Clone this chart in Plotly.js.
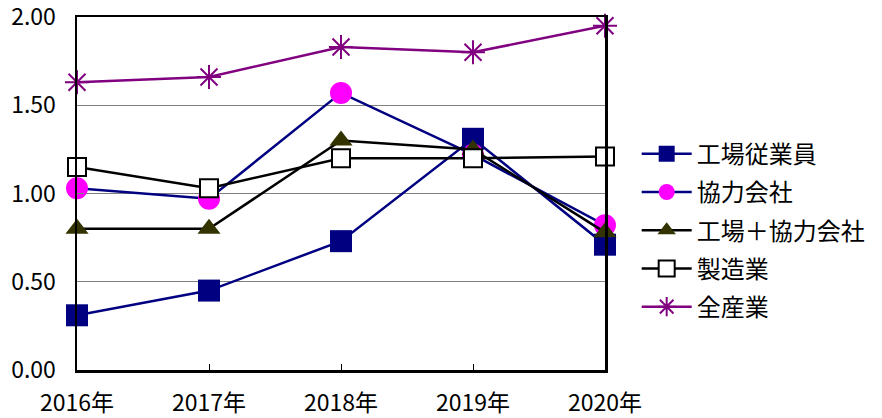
<!DOCTYPE html>
<html><head><meta charset="utf-8">
<script src="https://cdn.plot.ly/plotly-3.0.1.min.js"></script>
<style>html,body{margin:0;padding:0;background:#fff;}#chart{width:882px;height:418px;}</style>
</head><body><div id="chart"></div>
<script>
const years = ["2016年","2017年","2018年","2019年","2020年"];
const factoryEmployees = [0.31, 0.45, 0.73, 1.31, 0.71];
const partnerCompanies = [1.03, 0.97, 1.57, 1.22, 0.82];
const factoryPlusPartner = [0.80, 0.80, 1.30, 1.25, 0.78];
const manufacturing = [1.15, 1.03, 1.20, 1.20, 1.21];
const allIndustries = [1.63, 1.66, 1.83, 1.80, 1.95];
const seriesNames = ["工場従業員","協力会社","工場＋協力会社","製造業","全産業"];
const yTicks = [0, 0.5, 1.0, 1.5, 2.0];

const font = "'Noto Sans CJK JP', 'Noto Sans', sans-serif";

const traces = [
  {y: factoryEmployees, name: seriesNames[0], line:{color:'#000080', width:2.5},
   marker:{symbol:'square', size:22, color:'#000080'}},
  {y: partnerCompanies, name: seriesNames[1], line:{color:'#000080', width:2.5},
   marker:{symbol:'circle', size:22, color:'#FF00FF'}},
  {y: factoryPlusPartner, name: seriesNames[2], line:{color:'#000000', width:2.5},
   marker:{symbol:'triangle-up', size:20, color:'#333300'}},
  {y: manufacturing, name: seriesNames[3], line:{color:'#000000', width:2.5},
   marker:{symbol:'square', size:18, color:'#FFFFFF', line:{color:'#000000', width:2}}},
  {y: allIndustries, name: seriesNames[4], line:{color:'#800080', width:2.5},
   marker:{symbol:'asterisk-open', size:20, color:'#800080', line:{color:'#800080', width:2}}}
].map((t,i) => Object.assign({x: years, type:'scatter', mode:'lines+markers', cliponaxis:false,
   legendgroup:'g'+i}, t));

const layout = {
  width: 882, height: 418,
  margin: {l:77, r:277, t:17, b:48},
  paper_bgcolor:'#fff', plot_bgcolor:'#fff',
  font: {family: font, size: 23, color:'#000'},
  showlegend: true,
  legend: {x: 1.06, xanchor:'left', y: 0.675, yanchor:'top', font:{size:24},
    traceorder:'grouped', tracegroupgap: 4, itemwidth: 50, bgcolor:'rgba(0,0,0,0)'},
  xaxis: {type:'category', range:[0,4], showgrid:false, showline:true, linecolor:'#000', linewidth:2.5,
    mirror:true, ticks:'inside', ticklen:6, tickcolor:'#000', tickwidth:1, zeroline:false,
    tickfont:{family:font, size:23}, ticklabelstandoff: 11, ticklabeloverflow:'allow', fixedrange:true},
  yaxis: {range:[0,2], tickvals: yTicks, ticktext: yTicks.map(v => v.toFixed(2)), showgrid:true, gridcolor:'#808080', gridwidth:1,
    showline:true, linecolor:'#000', linewidth:2.5, mirror:true, ticks:'inside', ticklen:7, tickcolor:'#808080',
    zeroline:false, tickfont:{family:font, size:23}, ticklabelstandoff: 14, ticklabeloverflow:'allow', fixedrange:true}
};
Plotly.newPlot('chart', traces, layout, {displayModeBar:false, staticPlot:true});
</script></body></html>
